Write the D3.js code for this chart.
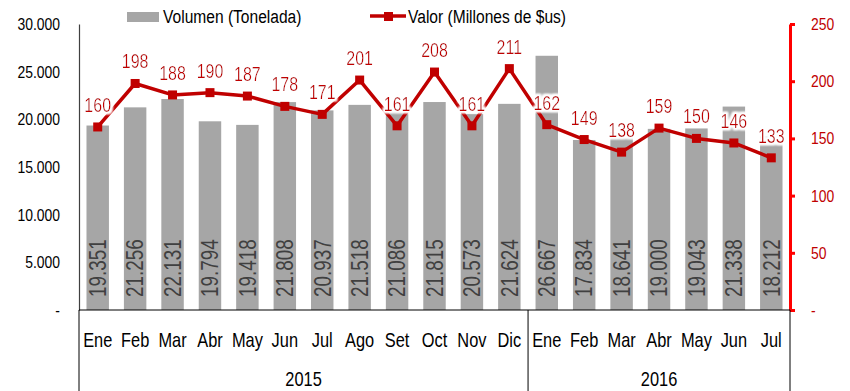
<!DOCTYPE html>
<html>
<head>
<meta charset="utf-8">
<script src="https://cdn.jsdelivr.net/npm/d3@7"></script>
<style>
  html, body { margin: 0; padding: 0; background: #fff; }
  svg { display: block; }
  text { font-family: "Liberation Sans", Arial, sans-serif; }
</style>
</head>
<body>
<svg id="chart" width="850" height="391"></svg>
<script>
// Monthly volume (tonnes) and value (millions of US$), Jan 2015 – Jul 2016
const months = ["Ene","Feb","Mar","Abr","May","Jun","Jul","Ago","Set","Oct","Nov","Dic",
                "Ene","Feb","Mar","Abr","May","Jun","Jul"];
const years = ["2015","2016"];
const yearSpans = [12, 7];
const volumen = [19351,21256,22131,19794,19418,21808,20937,21518,21086,21815,20573,21624,
                 26667,17834,18641,19000,19043,21338,18212];
const valor = [160,198,188,190,187,178,171,201,161,208,161,211,
               162,149,138,159,150,146,133];
const leftTicks = [0,5000,10000,15000,20000,25000,30000];
const rightTicks = [0,50,100,150,200,250];
const legendLabels = ["Volumen (Tonelada)", "Valor (Millones de $us)"];

const svg = d3.select("#chart");
const plotLeft = 79, plotRight = 790, plotTop = 24, plotBottom = 310, chartBottom = 391;
const NARROW = 0.82; // horizontal squeeze giving a narrow sans face

// place a text at (px, py) in a horizontally condensed form
function narrowAt(sel, px, py, extra = "") {
  sel.attr("x", 0).attr("y", 0)
     .attr("transform", (d, i) => {
       const X = typeof px === "function" ? px(d, i) : px;
       const Y = typeof py === "function" ? py(d, i) : py;
       return `translate(${X},${Y}) ${extra} scale(${NARROW},1)`;
     });
}
// condense axis tick labels in place
function narrowTicks(sel) {
  sel.each(function() {
    const t = d3.select(this);
    const x0 = +t.attr("x") || 0;
    t.attr("x", x0 / NARROW).attr("transform", `scale(${NARROW},1)`);
  });
}

const locale = d3.formatLocale({decimal: ",", thousands: ".", grouping: [3], currency: ["$", ""]});
const fmtThousands = locale.format(",.0f");
const dashZero = f => v => v === 0 ? "-" : f(v);

const idx = d3.range(months.length);
const x = d3.scaleBand().domain(idx).range([plotLeft, plotRight]).paddingInner(0.4).paddingOuter(0.2);
const yL = d3.scaleLinear().domain([0, 30000]).range([plotBottom, plotTop]);
const yR = d3.scaleLinear().domain([0, 250]).range([plotBottom, plotTop]);

const barColor = "#A6A6A6";
const lineColor = "#C00000";

// soft white glow behind the line's value labels
const defs = svg.append("defs");
const glow = defs.append("filter").attr("id", "halo").attr("x", "-20%").attr("y", "-30%").attr("width", "140%").attr("height", "160%");
glow.append("feMorphology").attr("in", "SourceAlpha").attr("operator", "dilate").attr("radius", 2).attr("result", "d");
glow.append("feGaussianBlur").attr("in", "d").attr("stdDeviation", 1.2).attr("result", "b");
glow.append("feFlood").attr("flood-color", "#fff").attr("result", "w");
glow.append("feComposite").attr("in", "w").attr("in2", "b").attr("operator", "in").attr("result", "g");
const merge = glow.append("feMerge");
merge.append("feMergeNode").attr("in", "g");
merge.append("feMergeNode").attr("in", "g");
merge.append("feMergeNode").attr("in", "SourceGraphic");

// bars
svg.append("g").selectAll("rect").data(volumen).join("rect")
  .attr("x", (d, i) => x(i))
  .attr("width", x.bandwidth())
  .attr("y", d => yL(d))
  .attr("height", d => yL(0) - yL(d))
  .attr("fill", barColor);

// rotated volume labels inside the bars
svg.append("g").selectAll("text").data(volumen).join("text")
  .call(narrowAt, (d, i) => x(i) + x.bandwidth() / 2, plotBottom - 13, "rotate(-90)")
  .attr("dy", "0.36em")
  .attr("font-size", 23)
  .attr("fill", "#404040")
  .text(d => fmtThousands(d));

// left axis
const axL = svg.append("g").attr("transform", `translate(${plotLeft},0)`)
  .call(d3.axisLeft(yL).tickValues(leftTicks).tickFormat(dashZero(fmtThousands)).tickSize(0).tickPadding(19));
axL.select(".domain").attr("stroke", "#404040").attr("stroke-width", 1.2);
axL.selectAll("text").attr("font-size", 17).attr("fill", "#000")
  .style("font-family", "'Liberation Sans', sans-serif").call(narrowTicks);

// right axis
const axR = svg.append("g").attr("transform", `translate(${plotRight},0)`)
  .call(d3.axisRight(yR).tickValues(rightTicks).tickFormat(dashZero(d3.format("d"))).tickSize(5).tickSizeOuter(0).tickPadding(16));
axR.select(".domain").attr("stroke", "#FF0000").attr("stroke-width", 3);
axR.selectAll(".tick line").attr("stroke", "#FF0000").attr("stroke-width", 3);
axR.selectAll("text").attr("font-size", 17).attr("fill", lineColor)
  .style("font-family", "'Liberation Sans', sans-serif").call(narrowTicks);

// category axis with year grouping
const cat = svg.append("g");
cat.append("line").attr("x1", plotLeft).attr("x2", plotRight).attr("y1", plotBottom).attr("y2", plotBottom)
  .attr("stroke", "#000").attr("stroke-width", 1);
const bounds = [0];
let acc = 0;
yearSpans.forEach(s => { acc += s; bounds.push(acc); });
const boundX = b => b === 0 ? plotLeft : (b === months.length ? plotRight : x(b) - x.step() * x.paddingInner() / 2);
bounds.forEach(b => {
  const bx = boundX(b);
  cat.append("line").attr("x1", bx).attr("x2", bx).attr("y1", plotBottom).attr("y2", chartBottom)
    .attr("stroke", "#000").attr("stroke-width", 1);
});
cat.selectAll("text.m").data(months).join("text").attr("class", "m")
  .call(narrowAt, (d, i) => x(i) + x.bandwidth() / 2, 347)
  .attr("text-anchor", "middle")
  .attr("font-size", 20)
  .attr("fill", "#000")
  .text(d => d);
cat.selectAll("text.yr").data(years).join("text").attr("class", "yr")
  .call(narrowAt, (d, k) => (boundX(bounds[k]) + boundX(bounds[k + 1])) / 2, 386)
  .attr("text-anchor", "middle").attr("font-size", 20).attr("fill", "#000")
  .text(d => d);

// value line with square markers
const cx = i => x(i) + x.bandwidth() / 2;
svg.append("path").datum(valor)
  .attr("d", d3.line().x((d, i) => cx(i)).y(d => yR(d)))
  .attr("fill", "none").attr("stroke", lineColor).attr("stroke-width", 3.5).attr("stroke-linejoin", "round");
svg.append("g").selectAll("rect").data(valor).join("rect")
  .attr("x", (d, i) => cx(i) - 4.5).attr("y", d => yR(d) - 4.5)
  .attr("width", 9).attr("height", 9).attr("fill", lineColor);

// value labels
svg.append("g").selectAll("text").data(valor).join("text")
  .call(narrowAt, (d, i) => cx(i), d => yR(d) - 15)
  .attr("text-anchor", "middle")
  .attr("font-size", 19.5)
  .attr("fill", lineColor)
  .attr("filter", "url(#halo)")
  .text(d => d);

// legend
const lg = svg.append("g");
lg.append("rect").attr("x", 127).attr("y", 12).attr("width", 32).attr("height", 10).attr("fill", barColor);
lg.append("text").call(narrowAt, 163, 23).attr("font-size", 19).attr("fill", "#000").text(legendLabels[0]);
lg.append("line").attr("x1", 370).attr("x2", 406).attr("y1", 16).attr("y2", 16)
  .attr("stroke", lineColor).attr("stroke-width", 3.5);
lg.append("rect").attr("x", 384).attr("y", 12).attr("width", 9).attr("height", 9).attr("fill", lineColor);
lg.append("text").call(narrowAt, 408, 23).attr("font-size", 19).attr("fill", "#000").text(legendLabels[1]);
</script>
</body>
</html>
